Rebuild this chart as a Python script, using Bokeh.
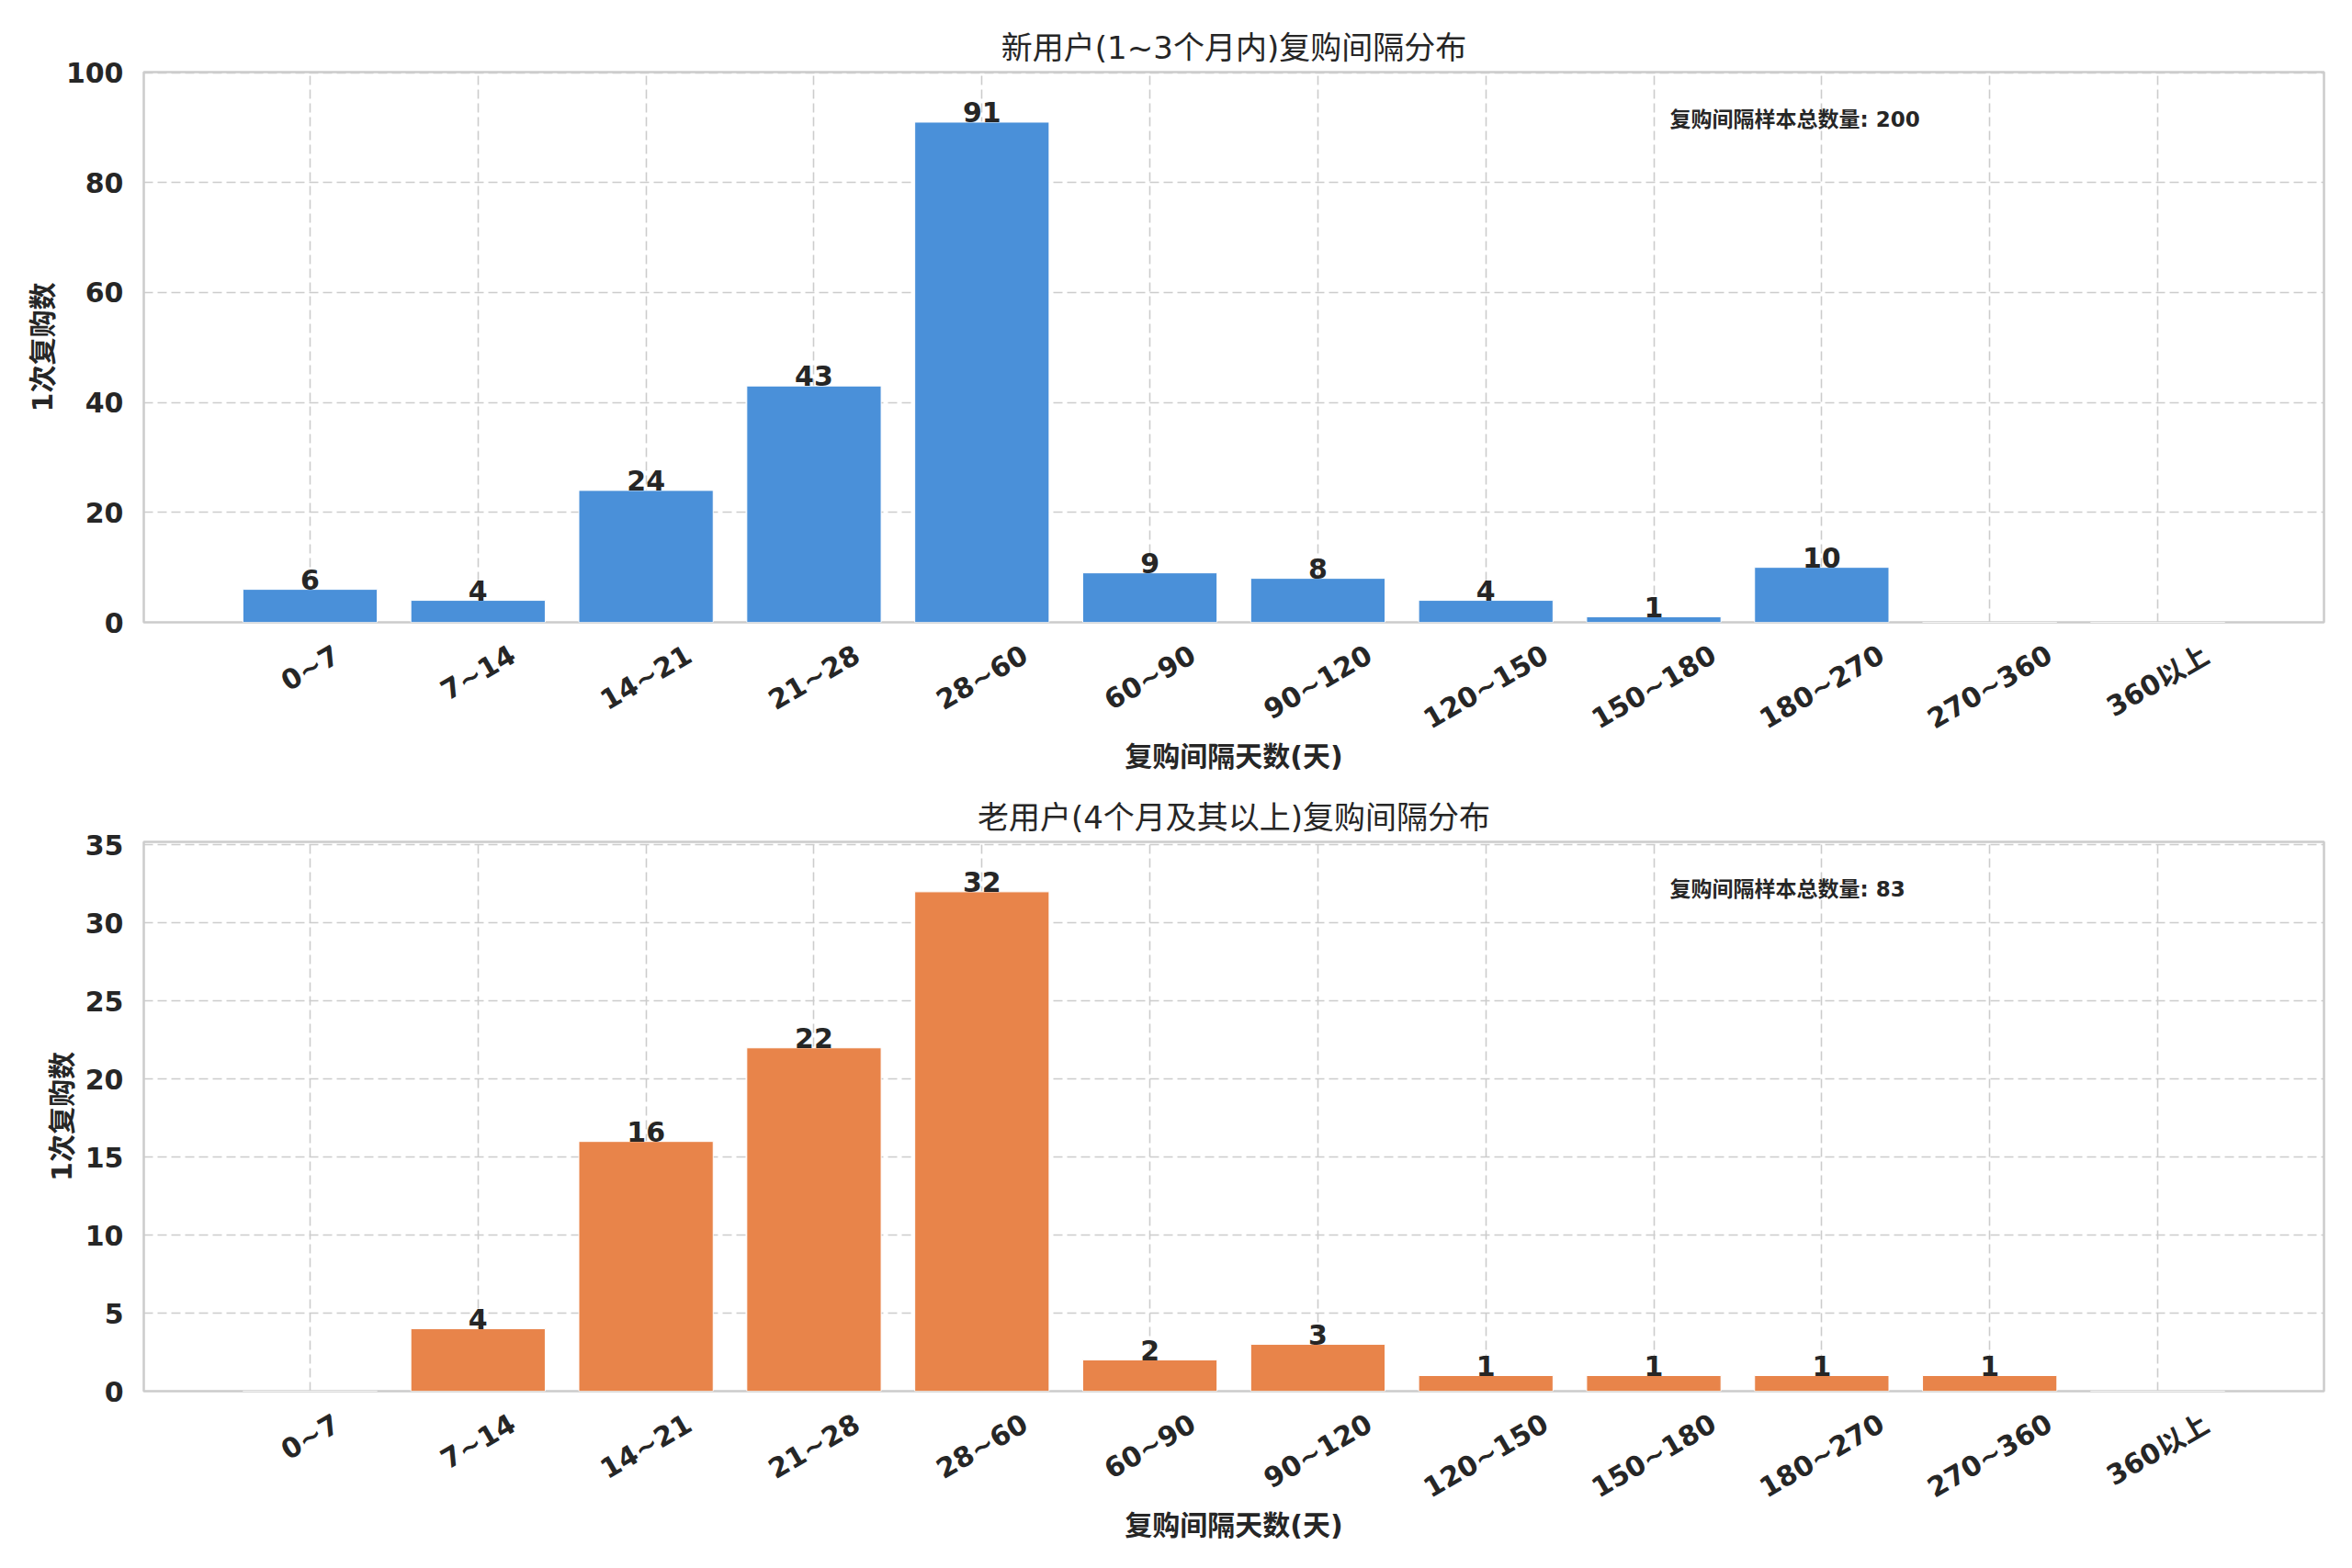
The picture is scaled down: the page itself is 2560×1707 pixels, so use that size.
import math
from bokeh.plotting import figure
from bokeh.layouts import column
from bokeh.core.properties import value
from bokeh.models import (ColumnDataSource, FixedTicker, SingleIntervalTicker,
                          Range1d, Label)
from bokeh.embed import file_html
from bokeh.resources import INLINE

# ----- data -----
bins = ["0~7", "7~14", "14~21", "21~28", "28~60", "60~90", "90~120",
        "120~150", "150~180", "180~270", "270~360", "360以上"]
new_counts = [6, 4, 24, 43, 91, 9, 8, 4, 1, 10, 0, 0]
old_counts = [0, 4, 16, 22, 32, 2, 3, 1, 1, 1, 1, 0]

new_title = "新用户(1~3个月内)复购间隔分布"
old_title = "老用户(4个月及其以上)复购间隔分布"
x_label = "复购间隔天数(天)"
y_label = "1次复购数"
total_label = "复购间隔样本总数量"

NEW_COLOR = "#4A90D9"
OLD_COLOR = "#E8844A"
TEXT_COLOR = "#262626"
FONT = "DejaVu Sans, Noto Sans CJK SC"
TICK_SIZE = 30
WIDTH = 2552
LEFT, RIGHT = 156, 23
GAP = 18        # room under each frame for the "0" tick label
STRIP_PX = 100  # height of the rotated category label strip

#-------------------------------------------------------------------------------------------------------

def label_drop(text, fs):
    # how far below the strip top the centre of a 30 degree label sits (like matplotlib ha=center, va=top)
    em = 0
    for ch in text:
        if ch.isdigit():
            em += 0.68
        elif ch == "~":
            em += 0.80
        else:
            em += 1.0
    w = em * fs
    h = 0.73 * fs
    rot_h = w * 0.5 + h * math.cos(math.pi / 6)
    return -(24 - GAP + rot_h / 2)

#-------------------------------------------------------------------------------------------------------

def make_plot(counts, color, title, top_border, frame_px, y_step):
    n = len(bins)
    x_range = Range1d(-0.99, n - 1 + 0.99)
    y_end = max(counts) * 1.1

    p = figure(width=WIDTH, height=top_border + frame_px + GAP, output_backend="svg",
               toolbar_location=None, x_range=x_range, y_range=Range1d(0, y_end),
               min_border_left=LEFT, min_border_right=RIGHT,
               min_border_top=top_border, min_border_bottom=GAP)

    p.title.text = title
    p.title.align = "center"
    p.title.text_font = FONT
    p.title.text_font_size = "34px"
    p.title.text_font_style = "normal"
    p.title.text_color = TEXT_COLOR
    p.title.standoff = 14

    xs = list(range(n))
    src = ColumnDataSource(data=dict(x=xs, top=counts))
    p.vbar(x="x", top="top", width=0.8, bottom=0, source=src,
           fill_color=color, line_color="white", line_width=1)

    lab = ColumnDataSource(data=dict(
        x=[x for x, c in zip(xs, counts) if c > 0],
        y=[c for c in counts if c > 0],
        t=[str(c) for c in counts if c > 0]))
    p.text(x="x", y="y", text="t", source=lab, text_align="center",
           text_baseline="bottom", text_font=value(FONT), text_font_size="30px",
           text_font_style="bold", text_color=TEXT_COLOR)

    x0, x1 = x_range.start, x_range.end
    p.add_layout(Label(x=x0 + 0.7 * (x1 - x0), y=0.935 * y_end,
                       text=f"{total_label}: {sum(counts)}", text_align="left",
                       text_baseline="top", text_font_size="23px",
                       text_font_style="bold", text_color=TEXT_COLOR,
                       text_font=FONT))

    p.xaxis.visible = False
    p.xgrid.ticker = FixedTicker(ticks=xs)
    p.yaxis.ticker = SingleIntervalTicker(interval=y_step)
    p.yaxis.axis_line_color = None
    p.yaxis.major_tick_line_color = None
    p.yaxis.minor_tick_line_color = None
    p.yaxis.major_tick_out = 0
    p.yaxis.minor_tick_out = 0
    p.yaxis.major_label_standoff = 22
    p.yaxis.major_label_text_font = FONT
    p.yaxis.major_label_text_font_size = f"{TICK_SIZE}px"
    p.yaxis.major_label_text_font_style = "bold"
    p.yaxis.major_label_text_color = TEXT_COLOR
    p.yaxis.axis_label = y_label
    p.yaxis.axis_label_text_font = FONT
    p.yaxis.axis_label_text_font_size = "30px"
    p.yaxis.axis_label_text_font_style = "bold"
    p.yaxis.axis_label_text_color = TEXT_COLOR

    p.grid.grid_line_color = "#cccccc"
    p.grid.grid_line_dash = "10 5"
    p.grid.grid_line_width = 1.6
    p.outline_line_color = "#cccccc"
    p.outline_line_width = 2.5
    return p

#-------------------------------------------------------------------------------------------------------

def make_label_strip(x_range, height):
    # the category labels, rotated 30 degrees and centred under each bar, plus the x axis title
    s = figure(width=WIDTH, height=height, output_backend="svg", toolbar_location=None,
               x_range=x_range, y_range=Range1d(-STRIP_PX, 0),
               min_border_left=LEFT, min_border_right=RIGHT,
               min_border_top=0, min_border_bottom=height - STRIP_PX)
    s.yaxis.visible = False
    s.grid.visible = False
    s.outline_line_color = None

    src = ColumnDataSource(data=dict(
        x=list(range(len(bins))), y=[label_drop(b, TICK_SIZE) for b in bins], t=bins))
    s.text(x="x", y="y", text="t", source=src, angle=math.pi / 6,
           text_align="center", text_baseline="middle",
           text_font=value(FONT), text_font_size=f"{TICK_SIZE}px",
           text_font_style="bold", text_color=TEXT_COLOR)

    s.xaxis.ticker = FixedTicker(ticks=[])
    s.xaxis.axis_line_color = None
    s.xaxis.major_tick_out = 0
    s.xaxis.minor_tick_out = 0
    s.xaxis.major_label_standoff = 0
    s.xaxis.axis_label = x_label
    s.xaxis.axis_label_standoff = 10
    s.xaxis.axis_label_text_font = FONT
    s.xaxis.axis_label_text_font_size = "30px"
    s.xaxis.axis_label_text_font_style = "bold"
    s.xaxis.axis_label_text_color = TEXT_COLOR
    return s

#-------------------------------------------------------------------------------------------------------

def main():
    top_plot = make_plot(new_counts, NEW_COLOR, new_title, 78, 599, 20)
    top_strip = make_label_strip(top_plot.x_range, 850 - top_plot.height)
    bottom_plot = make_plot(old_counts, OLD_COLOR, old_title, 66, 598, 5)
    bottom_strip = make_label_strip(bottom_plot.x_range, 850 - bottom_plot.height)
    layout = column(top_plot, top_strip, bottom_plot, bottom_strip, spacing=0)
    open("out.html", "w").write(file_html(layout, INLINE))


if __name__ == "__main__":
    main()
